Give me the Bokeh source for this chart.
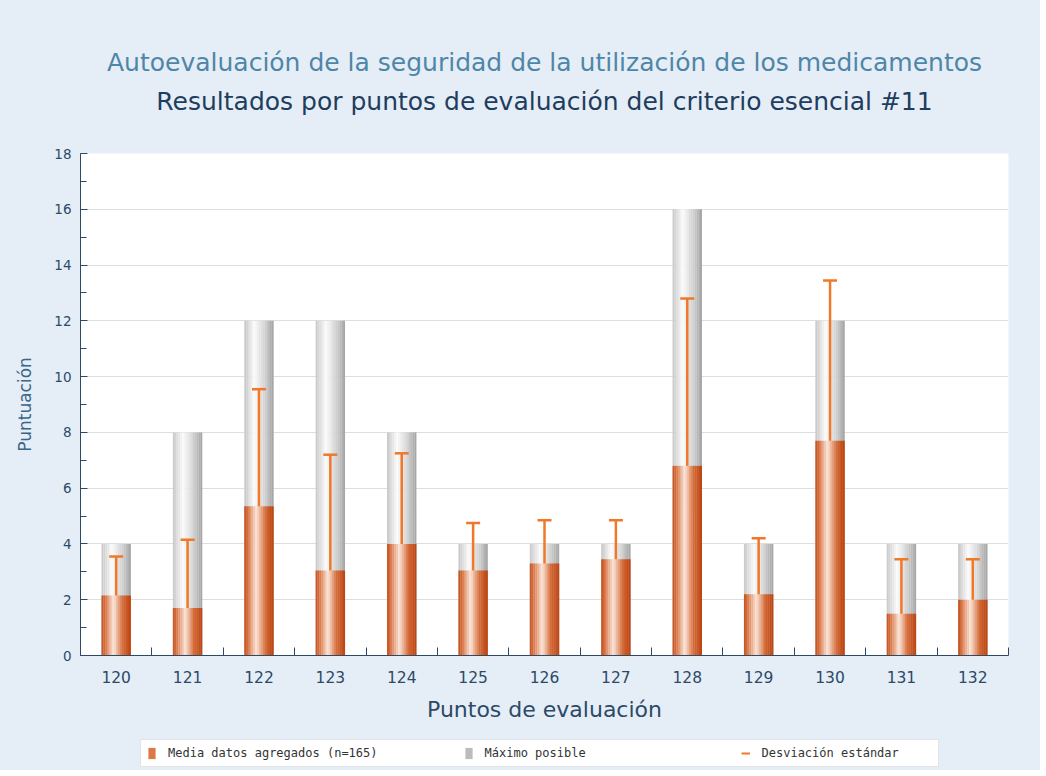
from bokeh.plotting import figure
from bokeh.layouts import column
from bokeh.models import (ColumnDataSource, FixedTicker, SingleIntervalTicker, Range1d,
                          Legend, LegendItem, Title)
from bokeh.transform import dodge
from bokeh.embed import file_html
from bokeh.resources import INLINE

# ---- data ----
categories = ["120", "121", "122", "123", "124", "125", "126", "127", "128", "129", "130", "131", "132"]
media = [2.15, 1.7, 5.35, 3.05, 4.0, 3.05, 3.3, 3.45, 6.8, 2.2, 7.7, 1.5, 2.0]
maximo = [4, 8, 12, 12, 8, 4, 4, 4, 16, 4, 12, 4, 4]
desviacion = [1.4, 2.45, 4.2, 4.15, 3.25, 1.7, 1.55, 1.4, 6.0, 2.0, 5.75, 1.95, 1.45]

title1 = "Autoevaluación de la seguridad de la utilización de los medicamentos"
title2 = "Resultados por puntos de evaluación del criterio esencial #11"
x_label = "Puntos de evaluación"
y_label = "Puntuación"
legend_labels = ["Media datos agregados (n=165)", "Máximo posible", "Desviación estándar"]

xs = [int(c) for c in categories]
tops = [m + d for m, d in zip(media, desviacion)]
src = ColumnDataSource(dict(x=xs, media=media, maximo=maximo, top=tops, zero=[0] * len(xs)))

# ---- style helpers ----
def hex2rgb(h):
    h = h.lstrip("#")
    return tuple(int(h[i:i + 2], 16) for i in (0, 2, 4))

def grad(stops, t):
    for (t0, c0), (t1, c1) in zip(stops[:-1], stops[1:]):
        if t0 <= t <= t1:
            a = (t - t0) / (t1 - t0) if t1 > t0 else 0
            r0, g0, b0 = hex2rgb(c0)
            r1, g1, b1 = hex2rgb(c1)
            return "#%02x%02x%02x" % (round(r0 + (r1 - r0) * a), round(g0 + (g1 - g0) * a), round(b0 + (b1 - b0) * a))
    return stops[-1][1]

orange_stops = [(0.0, "#c4501e"), (0.12, "#d9703f"), (0.42, "#fbe5d8"), (0.72, "#d66a35"), (1.0, "#bd420e")]
gray_stops = [(0.0, "#c6c6c6"), (0.35, "#fbfbfb"), (0.7, "#d2d2d2"), (1.0, "#a2a2a2")]

BAR_W = 0.41
K = 16
FONT = "DejaVu Sans"
NAVY = "#2c4a68"
BG = "#e5eef6"
W = 1040

p = figure(width=W, height=728, output_backend="svg", toolbar_location=None,
           x_range=Range1d(119.5, 132.5), y_range=Range1d(0, 18),
           min_border_left=80, min_border_right=W - 1008, min_border_top=153, min_border_bottom=73,
           title=None)
p.border_fill_color = BG
p.background_fill_color = "#ffffff"
p.outline_line_color = None

sw = BAR_W / K
for i in range(K):
    t = (i + 0.5) / K
    off = -BAR_W / 2 + (i + 0.5) * sw
    p.vbar(x=dodge("x", off), width=sw * 1.08, bottom="zero", top="maximo", source=src,
           fill_color=grad(gray_stops, t), line_color=None)
for i in range(K):
    t = (i + 0.5) / K
    off = -BAR_W / 2 + (i + 0.5) * sw
    p.vbar(x=dodge("x", off), width=sw * 1.08, bottom="zero", top="media", source=src,
           fill_color=grad(orange_stops, t), line_color=None)

p.segment(x0="x", y0="media", x1="x", y1="top", source=src, line_color="#f07828", line_width=2.5)
p.scatter(x="x", y="top", source=src, marker="dash", size=14, line_color="#f07828", line_width=2.5)

# axes
p.xaxis.ticker = FixedTicker(ticks=xs, minor_ticks=[x + 0.5 for x in [xs[0] - 1] + xs])
p.xaxis.major_label_overrides = {x: c for x, c in zip(xs, categories)}
p.xaxis.major_tick_line_color = None
p.xaxis.minor_tick_in = 8
p.xaxis.minor_tick_out = 0
p.xaxis.minor_tick_line_color = NAVY
p.xaxis.axis_line_color = NAVY
p.xaxis.major_label_text_font = FONT
p.xaxis.major_label_text_font_size = "15.5px"
p.xaxis.major_label_text_color = NAVY
p.xaxis.major_label_standoff = 9
p.xaxis.axis_label = x_label
p.xaxis.axis_label_text_font = FONT
p.xaxis.axis_label_text_font_size = "22px"
p.xaxis.axis_label_text_font_style = "normal"
p.xaxis.axis_label_text_color = NAVY
p.xaxis.axis_label_standoff = 11

p.yaxis.ticker = SingleIntervalTicker(interval=2, num_minor_ticks=2)
p.yaxis.major_tick_in = 7
p.yaxis.major_tick_out = 0
p.yaxis.minor_tick_in = 6
p.yaxis.minor_tick_out = 0
p.yaxis.major_tick_line_color = NAVY
p.yaxis.minor_tick_line_color = NAVY
p.yaxis.axis_line_color = NAVY
p.yaxis.major_label_text_font = FONT
p.yaxis.major_label_text_font_size = "13.5px"
p.yaxis.major_label_text_color = NAVY
p.yaxis.major_label_standoff = 9
p.yaxis.axis_label = y_label
p.yaxis.axis_label_text_font = FONT
p.yaxis.axis_label_text_font_size = "17px"
p.yaxis.axis_label_text_font_style = "normal"
p.yaxis.axis_label_text_color = "#3a6688"
p.yaxis.axis_label_standoff = 16

p.xgrid.grid_line_color = None
p.ygrid.grid_line_color = "#dedede"
p.ygrid.ticker = SingleIntervalTicker(interval=2)

# titles (first added = closest to plot)
p.add_layout(Title(text=title2, align="center", text_font=FONT, text_font_size="25px",
                   text_font_style="normal", text_color="#1f3d5e", standoff=76), "above")
p.add_layout(Title(text=title1, align="center", text_font=FONT, text_font_size="25px",
                   text_font_style="normal", text_color="#4f86a8", standoff=-60), "above")

# ---- legend strip ----
pl = figure(width=W, height=42, output_backend="svg", toolbar_location=None,
            x_range=Range1d(0, 1), y_range=Range1d(0, 1), x_axis_type=None, y_axis_type=None,
            min_border=0, title=None)
pl.border_fill_color = BG
pl.background_fill_color = BG
pl.outline_line_color = None
nan = float("nan")
dummy = ColumnDataSource(dict(x=[nan], top=[nan], y0=[nan], y1=[nan]))
r1 = pl.vbar(x="x", top="top", width=0.1, source=dummy, fill_color="#dc7848", line_color=None)
r2 = pl.vbar(x="x", top="top", width=0.1, source=dummy, fill_color="#bcbcbc", line_color=None)
r3 = pl.segment(x0="x", y0="y0", x1="x", y1="y1", source=dummy, line_color="#f07828", line_width=2)

legend = Legend(items=[LegendItem(label=legend_labels[0], renderers=[r1], index=0),
                       LegendItem(label=legend_labels[1], renderers=[r2], index=0),
                       LegendItem(label=legend_labels[2], renderers=[r3], index=0)],
                orientation="horizontal", location=(60, 3),
                label_text_font="DejaVu Sans Mono", label_text_font_size="12px",
                label_text_color="#333333", glyph_width=9, glyph_height=14,
                label_standoff=12, spacing=86, label_width=170, padding=6, margin=0,
                border_line_color="#c4ccd4", background_fill_color="#ffffff",
                background_fill_alpha=1.0)
pl.add_layout(legend, "center")

layout = column(p, pl, spacing=0)
layout.styles = {"background-color": BG}
open("out.html", "w").write(file_html(layout, INLINE))
